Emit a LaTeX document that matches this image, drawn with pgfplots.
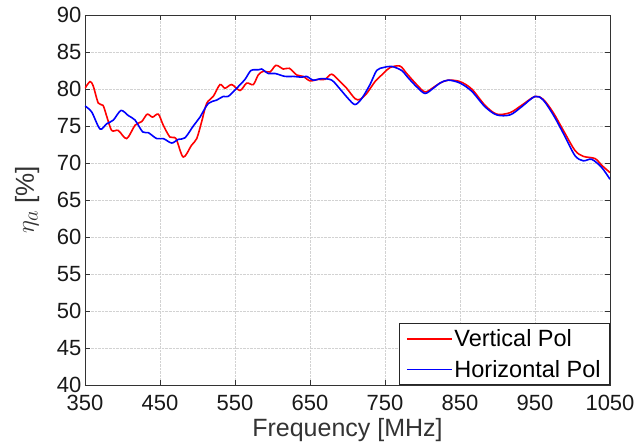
\documentclass[border=0pt]{standalone}
\usepackage{pgfplots}
\pgfplotsset{compat=1.18}
\usepackage{fontspec}
\setmainfont{Liberation Sans}
\begin{document}
\begin{tikzpicture}
\begin{axis}[
  name=main,
  scale only axis,
  width=525bp, height=370bp,
  xmin=350, xmax=1050, ymin=40, ymax=90,
  xtick={350,450,...,1050}, ytick={40,45,...,90},
  tick align=inside,
  major tick length=5bp,
  tick style={black!80, line width=0.5pt},
  axis line style={black!80, line width=0.6pt},
  grid=major,
  major grid style={densely dotted, gray!35, line width=0.5pt},
  /pgf/number format/assume math mode=true,
  /pgf/number format/1000 sep={},
  tick label style={font=\fontsize{22bp}{26bp}\selectfont, text=black!90, inner sep=1bp},
  xticklabel style={yshift=-9bp},
  yticklabel style={xshift=-2.5bp},
  xlabel={Frequency [MHz]},
  ylabel={{\fontsize{31bp}{31bp}\selectfont$\eta_a$} [\%]},
  xlabel style={font=\fontsize{25bp}{28bp}\selectfont, text=black!80, yshift=-3bp},
  ylabel style={font=\fontsize{26bp}{28bp}\selectfont, text=black!80, yshift=13bp},
  legend cell align=left,
  legend style={font=\fontsize{23.5bp}{27bp}\selectfont, draw=black!85, line width=0.6pt, inner xsep=7bp, inner ysep=4bp, at={(1,0)}, anchor=south east, row sep=8bp},
]
\addlegendimage{legend image code/.code={\draw[red, line width=1.3pt] (0bp,0bp) -- (45bp,0bp);}}
\addlegendentry{Vertical Pol}
\addlegendimage{legend image code/.code={\draw[blue, line width=1.3pt] (0bp,0bp) -- (45bp,0bp);}}
\addlegendentry{Horizontal Pol}
\addplot[red, line width=1.6pt, smooth, forget plot] coordinates {
(350,80.1) (356.7,81.0) (361,80.4) (367.7,78.1) (374,77.8) (379,76.3) (385.6,74.4) (394.4,74.4) (405.6,73.3) (416.7,75.1) (425.6,75.6) (433,76.6) (440,76.2) (447.8,76.6) (454.4,75.1) (463.3,73.5) (471.3,73.3) (481,70.8) (492,72.4) (499,73.3) (505.6,75.6) (512.2,78.05) (521,79.0) (530,80.6) (536.7,80.1) (545.6,80.6) (556.7,79.8) (565.6,80.8) (574.4,80.6) (581,81.9) (587.8,82.4) (596.7,82.3) (604.7,83.2) (614.4,82.7) (622.4,82.8) (632.2,81.9) (641,81.7) (650,81.1) (661,81.3) (670,81.3) (679,82.0) (690,81.0) (698.9,80.1) (710,78.7) (716.7,78.6) (725.6,79.4) (736.7,81.0) (747.8,82.1) (756.7,82.9) (770,83.1) (778.9,82.1) (792.2,80.6) (803.3,79.6) (814.4,80.2) (823.3,80.8) (834.4,81.2) (850,81.0) (865.6,80.0) (883.3,77.8) (898.9,76.6) (916.7,76.8) (932.2,77.8) (950,79.0) (961,78.6) (974.4,76.8) (987.8,74.4) (1003.3,71.7) (1014.4,70.9) (1030,70.6) (1038.9,69.7) (1050,68.7)
};
\addplot[blue, line width=1.6pt, smooth, forget plot] coordinates {
(350,77.7) (358.9,76.9) (370,74.6) (378.9,75.3) (387.8,75.8) (398,77.1) (407.8,76.4) (416.7,75.8) (426.9,74.2) (434.4,74.1) (445.6,73.3) (454.4,73.3) (465.6,72.7) (474.4,73.2) (483.3,73.4) (494.4,75.0) (503.3,76.2) (514.4,78.05) (525.6,78.5) (534.4,79.0) (541,79.0) (552.2,80.1) (563.3,81.3) (571.3,82.5) (581,82.6) (585.6,82.7) (594.4,82.1) (603.3,82.1) (616.7,81.7) (627.8,81.7) (638.9,81.6) (645.6,81.7) (654.4,81.2) (665.6,81.4) (678.9,81.2) (690,80.0) (701,78.7) (710,77.9) (718.9,78.7) (730,80.6) (738.9,82.5) (747.8,82.9) (758.9,83.05) (772.2,82.5) (781,81.5) (792.2,80.3) (803.3,79.4) (814.4,80.1) (823.3,80.8) (834.4,81.2) (850,80.8) (865.6,79.7) (883.3,77.6) (898.9,76.5) (916.7,76.5) (932.2,77.6) (950,79.0) (961,78.5) (974.4,76.5) (987.8,74.0) (1003.3,71.0) (1014.4,70.3) (1025.6,70.5) (1038.9,69.4) (1050,67.8)
};
\end{axis}
\path ([xshift=-85bp,yshift=-63bp]main.south west) rectangle ([xshift=27bp,yshift=15bp]main.north east);
\end{tikzpicture}
\end{document}
